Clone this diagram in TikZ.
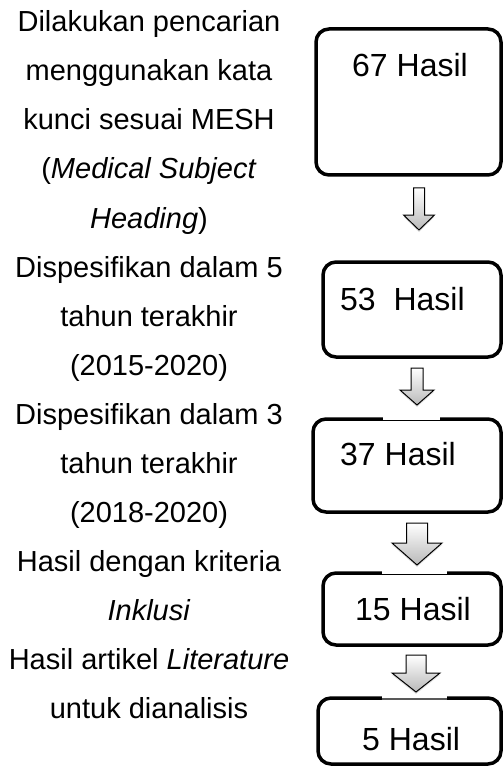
\documentclass[tikz,border=0pt]{standalone}
\usepackage{fontspec}
\setmainfont{Liberation Sans}
\usetikzlibrary{shadows}
\tikzset{
  box/.style={draw=black, line width=3.5pt, rounded corners=13pt, fill=white, inner sep=0pt},
  lefttxt/.style={font=\fontsize{29}{35}\selectfont, anchor=base, inner sep=0pt},
  boxtxt/.style={font=\fontsize{32}{38}\selectfont, anchor=base west, inner sep=0pt},
  blockarrow/.style={draw=black, line width=1pt, line join=miter, top color=white, bottom color=gray!55,
    drop shadow={opacity=0.25, shadow xshift=0pt, shadow yshift=-2pt}},
  gappatch/.style={fill=white},
  gapline/.style={draw=black, line width=1pt},
}
% cx, top, shaft half width, head top, head half width, tip
\newcommand\myblockarrow[6]{%
  \path[blockarrow] (#1-#3,#2) -- (#1+#3,#2) -- (#1+#3,#4) -- (#1+#5,#4) -- (#1,#6)
    -- (#1-#5,#4) -- (#1-#3,#4) -- cycle;
}
\begin{document}
\begin{tikzpicture}[x=1pt,y=-1pt]
\useasboundingbox (0,0) rectangle (503,767);

% boxes
\node[box, minimum width=185pt, minimum height=146pt] (b1) at (408.5,102) {};
\node[box, minimum width=178pt, minimum height=95pt] (b2) at (412,309.5) {};
\node[box, minimum width=188pt, minimum height=93pt] (b3) at (407,465.5) {};
\node[box, minimum width=178pt, minimum height=72pt] (b4) at (412,609) {};
\node[box, minimum width=183pt, minimum height=66pt] (b5) at (409.5,731) {};

% box texts
\node[boxtxt] (h1) at (352,77) {67 Hasil};
\node[boxtxt] (h2) at (340,310) {53\ \ Hasil};
\node[boxtxt] (h3) at (340,465) {37 Hasil};
\node[boxtxt] (h4) at (355,620) {15 Hasil};
\node[boxtxt] (h5) at (362,750) {5 Hasil};

% breaks in the top borders under the arrows
\path[gappatch] (383,416) rectangle (440,423);
\path[gapline] (383,420) -- (440,420);
\path[gappatch] (382,570) rectangle (447,577);
\path[gapline] (382,574) -- (447,574);
\path[gappatch] (382,695) rectangle (447,702);
\path[draw=gray!70!black, line width=2pt] (382,699) -- (447,699);

% block arrows
\myblockarrow{419}{188}{5.5}{215}{15.5}{230}
\myblockarrow{417}{368}{6}{390}{17}{405}
\myblockarrow{417}{523}{10.5}{543}{25}{565}
\myblockarrow{416}{655}{10}{673}{24}{692}

% left texts
\node[lefttxt] (t1) at (149,32) {Dilakukan pencarian};
\node[lefttxt] (t2) at (149,81) {menggunakan kata};
\node[lefttxt] (t3) at (149,130) {kunci sesuai MESH};
\node[lefttxt] (t4) at (149,179) {(\textit{Medical Subject}};
\node[lefttxt] (t5) at (149,228) {\textit{Heading})};
\node[lefttxt] (t6) at (149,277) {Dispesifikan dalam 5};
\node[lefttxt] (t7) at (149,326) {tahun terakhir};
\node[lefttxt] (t8) at (149,375) {(2015-2020)};
\node[lefttxt] (t9) at (149,424) {Dispesifikan dalam 3};
\node[lefttxt] (t10) at (149,473) {tahun terakhir};
\node[lefttxt] (t11) at (149,522) {(2018-2020)};
\node[lefttxt] (t12) at (149,571) {Hasil dengan kriteria};
\node[lefttxt] (t13) at (149,620) {\textit{Inklusi}};
\node[lefttxt] (t14) at (149,669) {Hasil artikel \textit{Literature}};
\node[lefttxt] (t15) at (149,718) {untuk dianalisis};
\end{tikzpicture}
\end{document}
